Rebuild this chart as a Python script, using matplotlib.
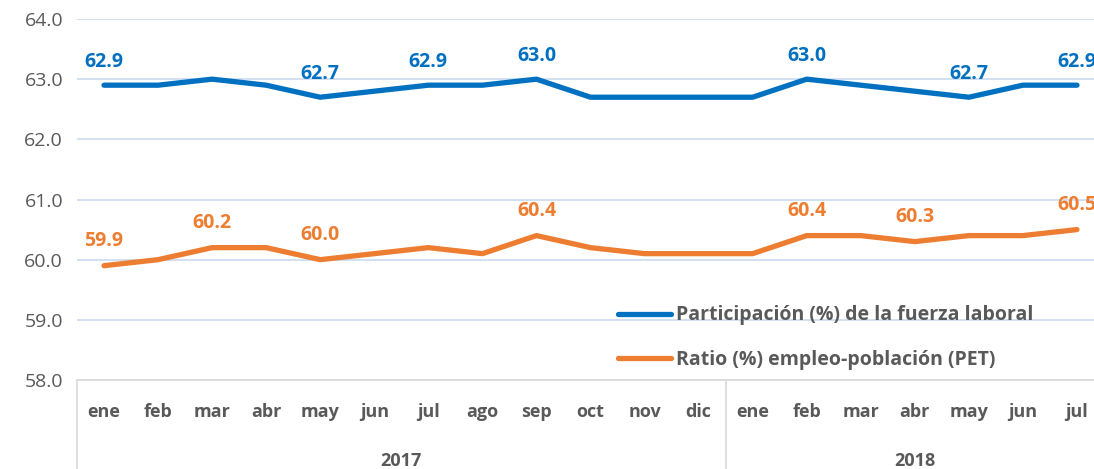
import matplotlib.pyplot as plt
from matplotlib.lines import Line2D
import matplotlib.transforms as mtransforms

plt.rcParams['font.family'] = ['Open Sans', 'DejaVu Sans']

# data
months = ['ene', 'feb', 'mar', 'abr', 'may', 'jun', 'jul', 'ago', 'sep', 'oct', 'nov', 'dic',
          'ene', 'feb', 'mar', 'abr', 'may', 'jun', 'jul']
years = ['2017', '2018']
year_len = [12, 7]
participacion = [62.9, 62.9, 63.0, 62.9, 62.7, 62.8, 62.9, 62.9, 63.0, 62.7, 62.7, 62.7,
                 62.7, 63.0, 62.9, 62.8, 62.7, 62.9, 62.9]
ratio = [59.9, 60.0, 60.2, 60.2, 60.0, 60.1, 60.2, 60.1, 60.4, 60.2, 60.1, 60.1,
         60.1, 60.4, 60.4, 60.3, 60.4, 60.4, 60.5]
part_labels = [0, 4, 6, 8, 13, 16, 18]
ratio_labels = [0, 2, 4, 8, 13, 15, 18]

blue = '#0070C0'
orange = '#ED7D31'
gray = '#595959'

fig = plt.figure(figsize=(10.94, 4.69), dpi=100)
ax = fig.add_axes([77 / 1094, 89 / 469, 1027 / 1094, 361 / 469])

x = list(range(len(months)))
ax.plot(x, participacion, color=blue, lw=3.8, solid_capstyle='round',
        label='Participación (%) de la fuerza laboral', zorder=3)
ax.plot(x, ratio, color=orange, lw=3.8, solid_capstyle='round',
        label='Ratio (%) empleo-población (PET)', zorder=3)

for i in part_labels:
    ax.annotate(f'{participacion[i]:.1f}', (i, participacion[i]), xytext=(0, 17),
                textcoords='offset points', ha='center', va='center',
                color=blue, fontsize=14, fontweight='bold')
for i in ratio_labels:
    ax.annotate(f'{ratio[i]:.1f}', (i, ratio[i]), xytext=(0, 18),
                textcoords='offset points', ha='center', va='center',
                color=orange, fontsize=14, fontweight='bold')

ax.set_xlim(-0.5, len(months) - 0.5)
ax.set_ylim(58, 64)
ax.set_yticks([58, 59, 60, 61, 62, 63, 64])
ax.set_yticklabels([f'{v:.1f}' for v in range(58, 65)], fontsize=14, color=gray)
ax.tick_params(axis='y', length=0, pad=10)
ax.set_xticks([])
ax.grid(axis='y', color='#C9DAF0', lw=1.2, zorder=0)
for s in ['top', 'right', 'left']:
    ax.spines[s].set_visible(False)
ax.spines['bottom'].set_color('#D9D9D9')
ax.spines['bottom'].set_linewidth(1.2)

# category axis (months + years)
trans = mtransforms.blended_transform_factory(ax.transData, ax.transAxes)
for i, m in enumerate(months):
    ax.text(i, -0.09, m, transform=trans, ha='center', va='center',
            fontsize=13, fontweight='bold', color=gray)

start = 0
bounds = [-0.5]
for y, n in zip(years, year_len):
    ax.text(start + (n - 1) / 2, -0.225, y, transform=trans, ha='center', va='center',
            fontsize=13, fontweight='bold', color=gray)
    start += n
    bounds.append(start - 0.5)
for b in bounds[:-1]:
    ax.add_line(Line2D([b, b], [0, -0.3], transform=trans, color='#D9D9D9',
                       lw=1.2, clip_on=False))

leg = ax.legend(loc='lower left', bbox_to_anchor=(0.51, -0.02), frameon=False,
                fontsize=14, handlelength=2.7, handletextpad=0.25, labelspacing=1.25)
for t in leg.get_texts():
    t.set_color(gray)
    t.set_fontweight('bold')

fig.savefig('out.png', dpi=100)
